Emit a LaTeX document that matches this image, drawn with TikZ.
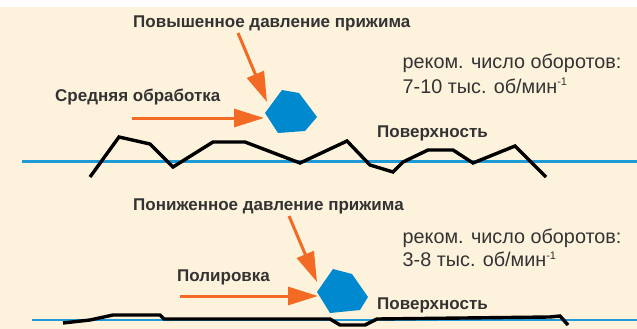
\documentclass[tikz,border=0pt]{standalone}
\usepackage{fontspec}
\setmainfont{Liberation Sans}
\usetikzlibrary{arrows.meta}

\definecolor{bgbeige}{HTML}{FDF2DC}
\definecolor{arrorange}{HTML}{F26A24}
\definecolor{grainblue}{HTML}{0089CF}
\definecolor{lineblue}{HTML}{1E9AD6}
\definecolor{txtgray}{HTML}{333333}

\newcommand{\perminute}{\textsuperscript{\fontsize{11}{12}\selectfont -1}}

\tikzset{
    lbl/.style = {anchor = base west, inner sep = 0pt, text = txtgray, font = \fontsize{17}{19}\selectfont\bfseries},
    rpm/.style = {anchor = base west, inner sep = 0pt, text = txtgray, font = \fontsize{19.8}{22}\selectfont},
    feed/.style = {draw = arrorange, line width = 3pt, -{Triangle[length = 30pt, width = 18pt]}},
    grain/.style = {fill = grainblue, draw = none},
    base/.style = {draw = lineblue, line width = 2.5pt},
    rough/.style = {draw = black, line width = 3.4pt, line join = miter}
}

\begin{document}
\begin{tikzpicture}[x = 1pt, y = -1pt]
    \useasboundingbox (0, 0) rectangle (637, 329);
    \fill [bgbeige] (0, 7) rectangle (637, 329);

    \begin{scope}
        \draw [base] (22, 161.5) -- (637, 161.5);
        \draw [rough] (90, 177) -- (119, 137) -- (150, 144) -- (173, 167) -- (213, 142) -- (245, 142)
            -- (300, 163) -- (347, 141) -- (370, 165) -- (393, 172) -- (403, 162) -- (428, 150)
            -- (453, 150) -- (473, 163) -- (515, 146) -- (546, 177);
        \fill [grain] (282, 90) -- (299, 93) -- (317, 117) -- (305, 131) -- (278, 133) -- (265, 113) -- cycle;
        \node [lbl] (highP) at (133, 27.5) {Повышенное давление прижима};
        \node [lbl] (medium) at (55, 101.5) {Средняя обработка};
        \node [rpm] (rpmA) at (402.5, 68.3) {реком. число оборотов:};
        \node [rpm] (rpmB) at (402.5, 93.3) {7-10 тыс. об/мин\perminute};
        \node [lbl] (surfA) at (377, 137.7) {Поверхность};
        \coordinate (pushA) at (238, 33);
        \coordinate (pushAend) at (267, 102);
        \coordinate (feedA) at (132, 118);
        \coordinate (feedAend) at (264, 118);
        \draw [feed] (pushA) -- (pushAend);
        \draw [feed] (feedA) -- (feedAend);
    \end{scope}

    \begin{scope}
        \draw [base] (32, 320) -- (637, 320);
        \draw [rough] (63, 323) -- (90, 320) -- (113, 315) -- (160, 315) -- (164, 319) -- (330, 319)
            -- (340, 325) -- (365, 325) -- (377, 319) -- (550, 317) -- (560, 316) -- (568, 325);
        \fill [grain] (333, 269) -- (352, 274) -- (368, 297) -- (360, 310) -- (330, 313) -- (317, 292) -- cycle;
        \node [lbl] (lowP) at (133, 210.7) {Пониженное давление прижима};
        \node [lbl] (polish) at (177, 281) {Полировка};
        \node [rpm] (rpmC) at (402.5, 243.3) {реком. число оборотов:};
        \node [rpm] (rpmD) at (402.5, 266.7) {3-8 тыс. об/мин\perminute};
        \node [lbl] (surfB) at (377, 309.3) {Поверхность};
        \coordinate (pushB) at (289, 216);
        \coordinate (pushBend) at (317, 282);
        \coordinate (feedB) at (180, 296);
        \coordinate (feedBend) at (318, 296);
        \draw [feed] (pushB) -- (pushBend);
        \draw [feed] (feedB) -- (feedBend);
    \end{scope}
\end{tikzpicture}
\end{document}
